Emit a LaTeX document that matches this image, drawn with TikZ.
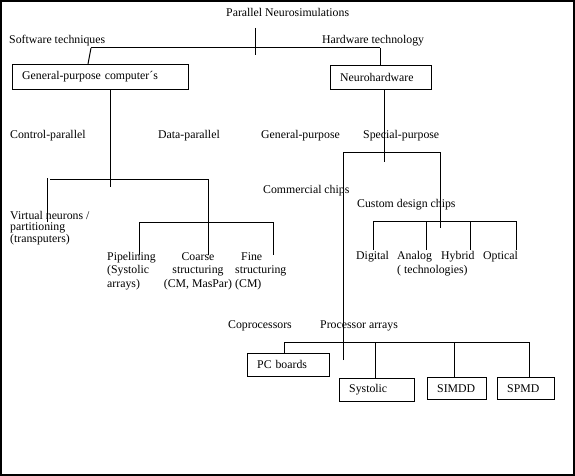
\documentclass[tikz,border=0pt]{standalone}
\usepackage{fontspec}
\setmainfont{Liberation Serif}
\usetikzlibrary{positioning, calc}

\begin{document}
\begin{tikzpicture}[
    x=1pt, y=-1pt,
    lbl/.style={
        inner sep=0pt,
        anchor=base west,
        font=\fontsize{11.8}{13.5}\selectfont
    },
    multilbl/.style={lbl, align=left},
    unitbox/.style={
        draw,
        anchor=north west,
        inner xsep=10pt,
        inner ysep=0pt,
        text width=#1,
        align=left,
        font=\fontsize{11.8}{13.5}\selectfont
    },
    tree/.style={line width=1pt}
]
\useasboundingbox (0,0) rectangle (575,476);
\draw[line width=1.5pt] (1,1) rectangle (574,475);

% === Level 1: root and the two techniques ===
\node[lbl] (title) at (226,17) {Parallel Neurosimulations};
\node[lbl] (sw) at (9,44) {Software techniques};
\node[lbl] (hw) at (322,44) {Hardware technology};
\node[unitbox=156pt, minimum height=25pt] (gpc) at (12,64) {General-purpose computer´s};
\node[unitbox=81pt, minimum height=24pt] (nh) at (330,65) {Neurohardware};

\coordinate (roottop) at (255,28);
\coordinate (rootbot) at (255,55);
\coordinate (swj) at (91,48);
\coordinate (hwj) at (380,48);
\coordinate (swfoot) at (88,64);
\draw[tree] (roottop) -- (rootbot);
\draw[tree] (swj) -- (hwj);
\draw[tree] (swj) -- (swfoot);
\draw[tree] (hwj) -- (hwj |- nh.north);

% === Software branch ===
% multi-line labels sit on the baseline of their last line
\node[lbl] (ctrl) at (10,138) {Control-parallel};
\node[lbl] (data) at (158,138) {Data-parallel};
\node[lbl, align=left, font=\fontsize{11.8}{11.5}\selectfont] (virt) at (10,242) {Virtual neurons /\\partitioning\\(transputers)};
\node[multilbl] (pipe) at (107,287) {Pipelining\\(Systolic\\arrays)};
\node[lbl, anchor=base, align=center] (coarse) at (198,287) {Coarse\\structuring\\(CM, MasPar)};
\node[multilbl] (fine) at (235,287) {\hspace{6pt}Fine\\structuring\\(CM)};

\coordinate (gpcstem) at (110,187);
\coordinate (ctrltop) at (47,178);
\coordinate (ctrlbot) at (47,222);
\coordinate (barA-l) at (50,179);
\coordinate (barA-r) at (208,179);
\coordinate (coarsebot) at (208,255);
\coordinate (pipebot) at (139,255);
\coordinate (barB-l) at (139,222);
\coordinate (barB-r) at (273,222);
\coordinate (finebot) at (273,255);
\draw[tree] (gpcstem |- gpc.south) -- (gpcstem);
\draw[tree] (ctrltop) -- (ctrlbot);
\draw[tree] (barA-l) -- (barA-r) -- (coarsebot);
\draw[tree] (pipebot) -- (barB-l) -- (barB-r) -- (finebot);

% === Hardware branch ===
\node[lbl] (gp) at (261,138) {General-purpose};
\node[lbl] (sp) at (363,138) {Special-purpose};
\node[lbl] (comm) at (263,193) {Commercial chips};
\node[lbl] (custom) at (357,207) {Custom design chips};
\node[lbl] (digital) at (356,259) {Digital};
\node[multilbl] (analog) at (397,273) {Analog\\( technologies)};
\node[lbl] (hybrid) at (441,259) {Hybrid};
\node[lbl] (optical) at (483,259) {Optical};

\coordinate (nhstem) at (384,162);
\coordinate (commbot) at (343,360);
\coordinate (barC-l) at (343,152);
\coordinate (barC-r) at (440,152);
\coordinate (custombot) at (440,228);
\draw[tree] (nhstem |- nh.south) -- (nhstem);
\draw[tree] (commbot) -- (barC-l) -- (barC-r) -- (custombot);

\coordinate (barD-l) at (373,221);
\coordinate (barD-r) at (516,221);
\draw[tree] (barD-l) -- (barD-r);
\foreach \x in {373, 426, 470, 516}
    \draw[tree] (\x,221) -- (\x,250);

% === Commercial chips ===
\node[lbl] (copro) at (228,328) {Coprocessors};
\node[lbl] (procarr) at (320,328) {Processor arrays};
\node[unitbox=62pt, minimum height=23pt] (pc) at (247,353) {PC boards};
\node[unitbox=55pt, minimum height=23pt] (sys) at (339,378) {Systolic};
\node[unitbox=39pt, minimum height=22pt] (simd) at (427,377) {SIMDD};
\node[unitbox=37pt, minimum height=22pt] (spmd) at (497,377) {SPMD};

\coordinate (pctick) at (284,342);
\coordinate (systick) at (375,342);
\coordinate (simdtick) at (454,342);
\coordinate (spmdtick) at (529,342);
\draw[tree] (pctick) -- (spmdtick);
\foreach \t/\b in {pctick/pc, systick/sys, simdtick/simd, spmdtick/spmd}
    \draw[tree] (\t) -- (\t |- \b.north);

\end{tikzpicture}
\end{document}
